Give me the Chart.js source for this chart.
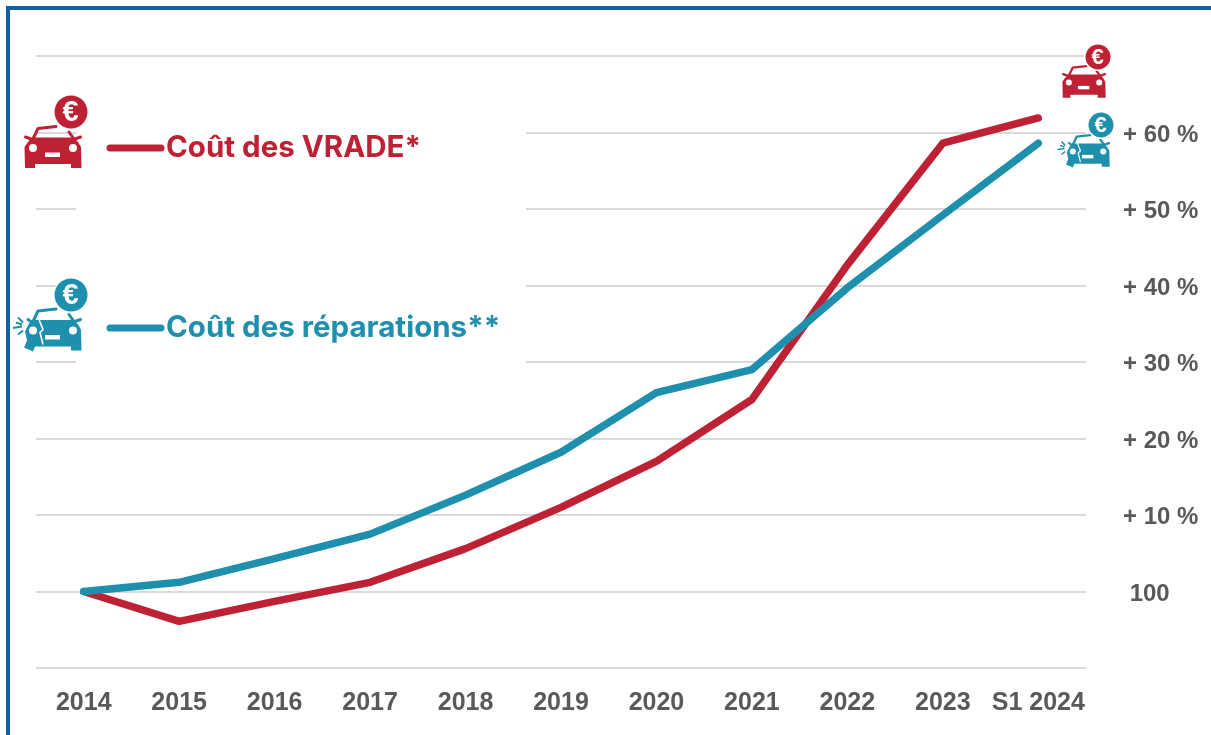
<!DOCTYPE html>
<html>
<head>
<meta charset="utf-8">
<title>Coût des VRADE et des réparations</title>
<script src="https://cdn.jsdelivr.net/npm/chart.js@4"></script>
<style>
  html, body { margin: 0; padding: 0; background: #fff; overflow: hidden; }
  #wrapper { position: relative; width: 1211px; height: 735px; }
  #frame { position: absolute; left: 6px; top: 6px; right: 0; bottom: 0; border-left: 4px solid #0f5fa6; border-top: 4px solid #0f5fa6; }
  canvas { position: absolute; left: 0; top: 0; }
</style>
</head>
<body>
<div id="wrapper">
  <canvas id="chart" width="1211" height="735"></canvas>
  <div id="frame"></div>
</div>
<script>
var categories = ['2014', '2015', '2016', '2017', '2018', '2019', '2020', '2021', '2022', '2023', 'S1 2024'];
var vrade = [100, 96.1, 98.7, 101.2, 105.6, 111, 117, 125.1, 142.7, 158.6, 161.9];
var reparations = [100, 101.2, 104.3, 107.5, 112.6, 118.2, 126, 129, 139.7, 149.2, 158.6];
var yTickLabels = { 100: '\u00a0100', 110: '+ 10 %', 120: '+ 20 %', 130: '+ 30 %', 140: '+ 40 %', 150: '+ 50 %', 160: '+ 60 %' };

var RED = '#bf2134';
var BLUE = '#1f8fae';
var GREY = '#595959';

// windshield frame, body, lights and plate of the car pictogram
function drawCar(ctx, x, y, s, color, crashed) {
  ctx.save();
  ctx.translate(x, y);
  ctx.scale(s, s);
  ctx.fillStyle = color;
  ctx.strokeStyle = color;
  ctx.lineJoin = 'round';
  ctx.lineCap = 'round';
  ctx.lineWidth = 3;

  ctx.beginPath();
  ctx.moveTo(9, 14);
  ctx.lineTo(14, 3.5);
  ctx.lineTo(32, 1.5);
  ctx.moveTo(45, 7);
  ctx.lineTo(50, 14);
  // mirrors
  ctx.moveTo(crashed ? 4 : 1.5, 12);
  ctx.lineTo(7, 14);
  ctx.moveTo(56.5, 12);
  ctx.lineTo(51, 14);
  ctx.stroke();

  ctx.beginPath();
  ctx.moveTo(8, 12.5);
  ctx.lineTo(50, 12.5);
  ctx.lineTo(54, 17);
  ctx.lineTo(57, 22);
  ctx.lineTo(57.5, 43);
  ctx.lineTo(47, 43);
  ctx.lineTo(47, 39);
  ctx.lineTo(11, 39);
  if (crashed) {
    ctx.lineTo(9, 44);
    ctx.lineTo(0, 40);
    ctx.lineTo(3, 33);
    ctx.lineTo(1, 24);
    ctx.lineTo(5, 16);
  } else {
    ctx.lineTo(11, 43);
    ctx.lineTo(1, 43);
    ctx.lineTo(0.5, 22);
    ctx.lineTo(4, 17);
  }
  ctx.closePath();
  ctx.fill();

  ctx.fillStyle = '#fff';
  ctx.beginPath();
  ctx.arc(9, 23, 4, 0, Math.PI * 2);
  ctx.arc(49, 23, 4, 0, Math.PI * 2);
  ctx.fill();
  ctx.fillRect(21, 27.5, 15, 4.5);

  if (crashed) {
    ctx.strokeStyle = '#fff';
    ctx.lineWidth = 1.6;
    ctx.lineCap = 'butt';
    ctx.beginPath();
    ctx.moveTo(15, 12);
    ctx.lineTo(19, 22);
    ctx.lineTo(16, 25);
    ctx.lineTo(19, 37);
    ctx.stroke();

    ctx.strokeStyle = color;
    ctx.lineWidth = 2;
    ctx.beginPath();
    ctx.moveTo(-2, 19);
    ctx.lineTo(-11, 20.5);
    ctx.moveTo(-1, 15);
    ctx.lineTo(-6, 10);
    ctx.moveTo(-2, 17);
    ctx.lineTo(-8, 15);
    ctx.moveTo(-1, 23);
    ctx.lineTo(-6, 27);
    ctx.stroke();
  }
  ctx.restore();
}

function drawEuro(ctx, cx, cy, r, color) {
  ctx.save();
  ctx.fillStyle = '#fff';
  ctx.beginPath();
  ctx.arc(cx, cy, r + 1.5, 0, Math.PI * 2);
  ctx.fill();
  ctx.fillStyle = color;
  ctx.beginPath();
  ctx.arc(cx, cy, r, 0, Math.PI * 2);
  ctx.fill();
  ctx.fillStyle = '#fff';
  ctx.font = '700 ' + Math.round(r * 1.75) + 'px "Liberation Sans"';
  ctx.textAlign = 'center';
  ctx.textBaseline = 'middle';
  ctx.fillText('€', cx - 0.5, cy + 1);
  ctx.restore();
}

function legendEntry(ctx, y, color, text) {
  ctx.save();
  ctx.strokeStyle = color;
  ctx.lineWidth = 7;
  ctx.lineCap = 'round';
  ctx.beginPath();
  ctx.moveTo(110, y);
  ctx.lineTo(161, y);
  ctx.stroke();
  ctx.fillStyle = color;
  ctx.font = '700 29.5px Inter';
  ctx.textAlign = 'left';
  ctx.textBaseline = 'middle';
  ctx.fillText(text, 166, y);
  ctx.restore();
}

var decorations = {
  id: 'decorations',
  // y tick labels sit a little under the grid line in the original
  beforeDraw: function(chart) {
    var axis = chart.scales.y;
    if (axis.labelsShifted) return;
    axis.labelsShifted = true;
    var drawLabels = axis.drawLabels;
    axis.drawLabels = function(area) {
      chart.ctx.save();
      chart.ctx.translate(0, 2.5);
      drawLabels.call(axis, area);
      chart.ctx.restore();
    };
  },
  // the legend sits on a white patch that hides part of the grid
  beforeDatasetsDraw: function(chart) {
    var ctx = chart.ctx;
    ctx.save();
    ctx.fillStyle = '#fff';
    ctx.fillRect(76, 120, 450, 250);
    ctx.restore();
  },
  afterDraw: function(chart) {
    var ctx = chart.ctx;
    legendEntry(ctx, 148, RED, chart.data.datasets[0].label);
    legendEntry(ctx, 328, BLUE, chart.data.datasets[1].label);

    drawCar(ctx, 24, 125, 1, RED, false);
    drawEuro(ctx, 71, 112, 16.5, RED);
    drawCar(ctx, 24, 307.5, 1, BLUE, true);
    drawEuro(ctx, 71, 295, 16.5, BLUE);

    drawCar(ctx, 1062, 65, 0.76, RED, false);
    drawEuro(ctx, 1098, 57, 12.5, RED);
    drawCar(ctx, 1066, 134, 0.76, BLUE, true);
    drawEuro(ctx, 1101, 125, 12.5, BLUE);
  }
};

new Chart(document.getElementById('chart'), {
  type: 'line',
  data: {
    labels: categories,
    datasets: [
      { label: 'Coût des VRADE*', data: vrade, borderColor: RED, order: 2 },
      { label: 'Coût des réparations**', data: reparations, borderColor: BLUE, order: 1 }
    ]
  },
  options: {
    responsive: false,
    animation: false,
    layout: { padding: { left: 36, top: 56, right: 0, bottom: 0 } },
    elements: {
      line: { borderWidth: 7.5, tension: 0, borderCapStyle: 'round', borderJoinStyle: 'round' },
      point: { radius: 0 }
    },
    plugins: { legend: { display: false }, tooltip: { enabled: false } },
    scales: {
      x: {
        offset: true,
        grid: { display: false },
        border: { display: false },
        ticks: { color: GREY, font: { family: 'Liberation Sans', size: 25, weight: '700' }, padding: 12, maxRotation: 0, autoSkip: false },
        afterFit: function(axis) { axis.height = 67; }
      },
      y: {
        position: 'right',
        min: 90,
        max: 170,
        grid: { color: '#d9d9d9', lineWidth: 2, drawTicks: false },
        border: { display: false },
        ticks: {
          stepSize: 10,
          color: GREY,
          font: { family: 'Liberation Sans', size: 24, weight: '700' },
          padding: 37,
          crossAlign: 'near',
          callback: function(value) { return yTickLabels[value] || ''; }
        },
        afterFit: function(axis) { axis.width = 125; }
      }
    }
  },
  plugins: [decorations]
});
</script>
</body>
</html>
